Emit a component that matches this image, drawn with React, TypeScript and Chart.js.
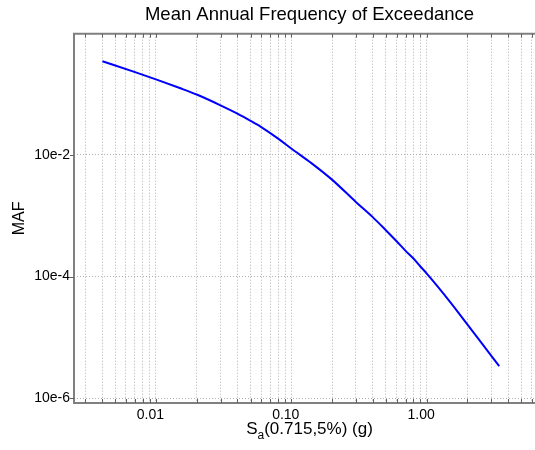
import React, { useEffect, useRef } from 'react';
import { Chart, registerables } from 'chart.js';

Chart.register(...registerables);

// ---- data ----
const saValues = [0.00402, 0.00692, 0.01, 0.015, 0.02, 0.03, 0.04, 0.05, 0.06, 0.08, 0.1, 0.1416, 0.2, 0.3, 0.4, 0.5, 0.6, 0.7, 0.8, 0.9, 1.0, 1.5, 2.0, 3.0, 3.44];
const mafValues = [0.342, 0.2297, 0.173, 0.1245, 0.0974, 0.0648, 0.0473, 0.036, 0.0284, 0.01838, 0.01264, 0.00722, 0.0039, 0.00168, 0.000945, 0.000576, 0.00038, 0.000264, 0.0001975, 0.0001459, 0.0001128, 3.78e-5, 1.64e-5, 5.01e-6, 3.37e-6];

const xGridTicks = [0.003, 0.004, 0.005, 0.006, 0.007, 0.008, 0.009, 0.01, 0.02, 0.03, 0.04, 0.05, 0.06, 0.07, 0.08, 0.09, 0.1, 0.2, 0.3, 0.4, 0.5, 0.6, 0.7, 0.8, 0.9, 1, 2, 3, 4, 5, 6, 7];
const xMajorTicks = [0.01, 0.1, 1];
const xTickLabels = ['0.01', '0.10', '1.00'];
const yTicks = [1e-6, 1e-4, 1e-2];
const yTickLabels = ['10e-6', '10e-4', '10e-2'];

const chartTitle = 'Mean Annual Frequency of Exceedance';
const yAxisTitle = 'MAF';
const xTitleMain = 'S';
const xTitleSub = 'a';
const xTitleRest = '(0.715,5%) (g)';

const X_MIN = 0.00248;
const X_MAX = 7.5;
const Y_MIN = 8.38e-7;
const Y_MAX = 0.971;

const FONT = '"Liberation Sans", Arial, Helvetica, sans-serif';
const W = 619;
const H = 450;
const AXIS_COLOR = '#808080';

const findIdx = (arr: number[], v: number) =>
  arr.findIndex((a) => Math.abs(Math.log10(a) - Math.log10(v)) < 1e-6);

const framePlugin = {
  id: 'frame',
  afterDraw(chart: any) {
    const { ctx, chartArea } = chart;
    const { left, right, top, bottom } = chartArea;
    const x = chart.scales.x;
    const y = chart.scales.y;
    ctx.save();
    // frame: left, bottom, top
    ctx.strokeStyle = AXIS_COLOR;
    ctx.lineWidth = 2;
    ctx.setLineDash([]);
    ctx.beginPath();
    ctx.moveTo(right, top);
    ctx.lineTo(left, top);
    ctx.lineTo(left, bottom);
    ctx.lineTo(right, bottom);
    ctx.stroke();
    // tick marks
    ctx.strokeStyle = '#606060';
    ctx.lineWidth = 1;
    ctx.beginPath();
    xGridTicks.forEach((v) => {
      const px = Math.round(x.getPixelForValue(v)) + 0.5;
      ctx.moveTo(px, bottom);
      ctx.lineTo(px, bottom - 4);
      ctx.moveTo(px, top);
      ctx.lineTo(px, top + 4);
    });
    yTicks.forEach((v) => {
      const py = Math.round(y.getPixelForValue(v)) + 0.5;
      ctx.moveTo(left - 4, py);
      ctx.lineTo(left, py);
    });
    ctx.stroke();
    // x axis title with subscript
    ctx.fillStyle = '#000';
    const mainFont = `17px ${FONT}`;
    const subFont = `12px ${FONT}`;
    ctx.font = mainFont;
    const wS = ctx.measureText(xTitleMain).width;
    const wR = ctx.measureText(xTitleRest).width;
    ctx.font = subFont;
    const wA = ctx.measureText(xTitleSub).width;
    const total = wS + wA + wR;
    let cx = (left + right) / 2 - total / 2;
    const baseY = 433.5;
    ctx.textBaseline = 'alphabetic';
    ctx.textAlign = 'left';
    ctx.font = mainFont;
    ctx.fillText(xTitleMain, cx, baseY);
    cx += wS;
    ctx.font = subFont;
    ctx.fillText(xTitleSub, cx, baseY + 5);
    cx += wA;
    ctx.font = mainFont;
    ctx.fillText(xTitleRest, cx, baseY);
    ctx.restore();
  },
};

export default function App() {
  const canvasRef = useRef<HTMLCanvasElement | null>(null);

  useEffect(() => {
    const canvas = canvasRef.current;
    if (!canvas) return;
    const points = saValues.map((v, i) => ({ x: v, y: mafValues[i] }));
    const chart = new Chart(canvas, {
      type: 'scatter',
      data: {
        datasets: [
          {
            data: points,
            showLine: true,
            borderColor: '#0000ff',
            backgroundColor: '#0000ff',
            borderWidth: 2,
            pointRadius: 0,
            cubicInterpolationMode: 'monotone',
          },
        ],
      },
      options: {
        responsive: false,
        animation: false,
        devicePixelRatio: 1,
        layout: { padding: 0 },
        plugins: {
          legend: { display: false },
          tooltip: { enabled: false },
          title: {
            display: true,
            text: chartTitle,
            color: '#000',
            font: { family: FONT, size: 18.5, weight: 'normal', lineHeight: 1.2 },
            padding: { top: 4, bottom: 7.5 },
          },
        },
        scales: {
          x: {
            type: 'logarithmic',
            min: X_MIN,
            max: X_MAX,
            afterBuildTicks: (scale: any) => {
              scale.ticks = xGridTicks.map((v) => ({ value: v }));
            },
            afterFit: (scale: any) => {
              scale.height = H - 403;
            },
            ticks: {
              autoSkip: false,
              maxRotation: 0,
              minRotation: 0,
              padding: 4,
              labelOffset: -5.5,
              color: '#000',
              font: { family: FONT, size: 14 },
              callback: (value: any) => {
                const i = findIdx(xMajorTicks, Number(value));
                return i >= 0 ? xTickLabels[i] : '';
              },
            },
            grid: {
              color: '#b0b0b0',
              lineWidth: 1,
              drawTicks: false,
            },
            border: { display: false, dash: [1, 2] },
          },
          y: {
            type: 'logarithmic',
            min: Y_MIN,
            max: Y_MAX,
            afterBuildTicks: (scale: any) => {
              scale.ticks = yTicks.map((v) => ({ value: v }));
            },
            afterFit: (scale: any) => {
              scale.width = 74;
            },
            ticks: {
              autoSkip: false,
              padding: 4,
              color: '#000',
              font: { family: FONT, size: 14 },
              callback: (value: any) => {
                const i = findIdx(yTicks, Number(value));
                return i >= 0 ? yTickLabels[i] : '';
              },
            },
            grid: {
              color: '#b0b0b0',
              lineWidth: 1,
              drawTicks: false,
            },
            border: { display: false, dash: [1, 2] },
            title: {
              display: true,
              text: yAxisTitle,
              color: '#000',
              font: { family: FONT, size: 16, weight: 'normal', lineHeight: 1.2 },
              padding: { top: 10, bottom: 0 },
            },
          },
          yRightSpace: {
            type: 'linear',
            position: 'right',
            display: true,
            grid: { display: false, drawTicks: false },
            ticks: { display: false },
            border: { display: false },
            afterFit: (scale: any) => {
              scale.width = W - 545;
            },
          },
        },
      },
      plugins: [framePlugin],
    } as any);
    return () => chart.destroy();
  }, []);

  return (
    <div
      style={{
        position: 'fixed',
        left: 0,
        top: 0,
        width: 535,
        height: 450,
        overflow: 'hidden',
        background: '#fff',
      }}
    >
      <canvas ref={canvasRef} width={W} height={H} style={{ width: W, height: H, display: 'block' }} />
    </div>
  );
}
